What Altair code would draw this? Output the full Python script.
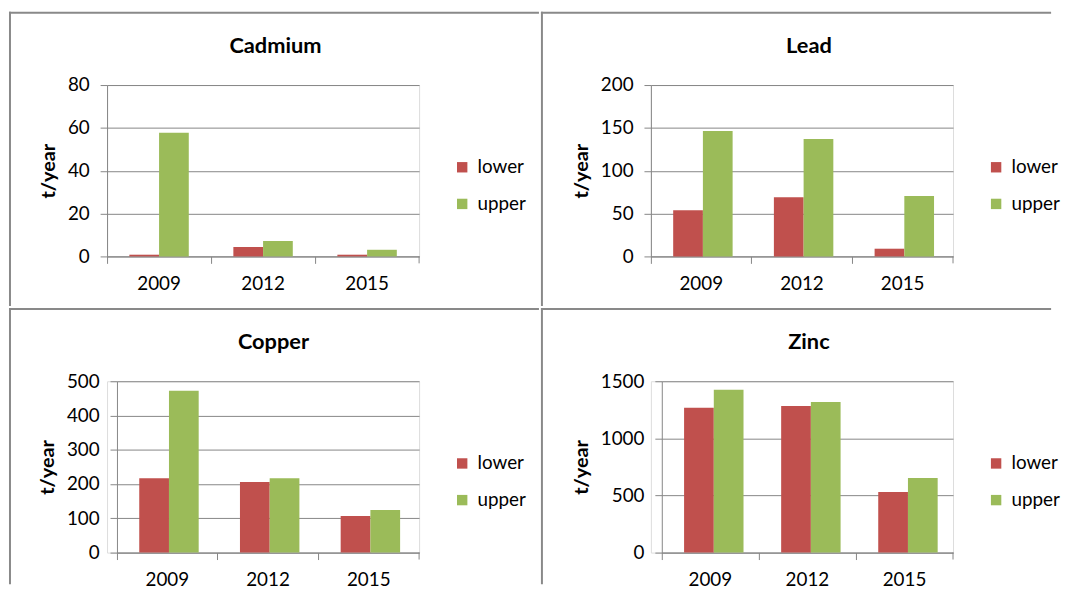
import altair as alt
import pandas as pd

years = ["2009", "2012", "2015"]
series = ["lower", "upper"]

cadmium_lower = [0.8, 4.4, 0.8]
cadmium_upper = [57.7, 7.2, 3.1]
lead_lower = [54, 69, 9]
lead_upper = [146.5, 137, 70.5]
copper_lower = [217, 206, 107]
copper_upper = [472, 217, 124]
zinc_lower = [1267, 1284, 531]
zinc_upper = [1425, 1318, 652]

cadmium_ticks = [0, 20, 40, 60, 80]
lead_ticks = [0, 50, 100, 150, 200]
copper_ticks = [0, 100, 200, 300, 400, 500]
zinc_ticks = [0, 500, 1000, 1500]

RED = "#C0504D"
GREEN = "#9BBB59"
GRID = "#868686"
FRAME = "#898989"
FONT = "Lato"
H = 173


def panel(name, lower, upper, ticks, W, inset, L, T, R, B, title_x):
    df = pd.DataFrame({
        "year": years * 2,
        "series": [series[0]] * 3 + [series[1]] * 3,
        "value": lower + upper,
    })
    one = pd.DataFrame({"k": [0]})
    bars = alt.Chart(df).mark_bar().encode(
        x=alt.X("year:N", sort=years,
                scale=alt.Scale(paddingInner=0, paddingOuter=0, range=[inset, W]),
                axis=alt.Axis(title=None, labelAngle=0, bandPosition=0, tickSize=7,
                              tickColor=GRID, domainColor=GRID, labelFont=FONT,
                              labelFontSize=19, labelColor="#000000", labelPadding=11,
                              grid=False)),
        xOffset=alt.XOffset("series:N", sort=series,
                            scale=alt.Scale(paddingInner=0, paddingOuter=0.75)),
        y=alt.Y("value:Q", scale=alt.Scale(domain=[0, ticks[-1]], nice=False),
                axis=alt.Axis(values=ticks, format="d", title="t/year", offset=-inset,
                              tickSize=7, tickColor=GRID,
                              domainColor=GRID, gridColor=GRID, labelFont=FONT,
                              labelFontSize=19, labelColor="#000000", labelPadding=11,
                              titleFont=FONT, titleFontSize=20, titleFontWeight="bold",
                              titleColor="#000000", titlePadding=9)),
        color=alt.Color("series:N",
                        scale=alt.Scale(domain=series, range=[RED, GREEN]),
                        legend=alt.Legend(title=None, orient="none", legendX=W + 34,
                                          legendY=73.5, direction="vertical",
                                          symbolType="square", symbolSize=110,
                                          symbolStrokeWidth=0, labelFont=FONT,
                                          labelFontSize=19, labelColor="#000000",
                                          labelOffset=6, rowPadding=17, padding=0)),
    )
    top_rule = alt.Chart(one).mark_rule(color=FRAME, strokeWidth=2, strokeCap="square").encode(
        x=alt.value(-L), x2=alt.value(W + R), y=alt.value(-T))
    left_rule = alt.Chart(one).mark_rule(color=FRAME, strokeWidth=2, strokeCap="square").encode(
        x=alt.value(-L), y=alt.value(-T), y2=alt.value(H + B))
    end_tick = alt.Chart(one).mark_rule(color=GRID, strokeWidth=1).encode(
        x=alt.value(W), y=alt.value(H), y2=alt.value(H + 7))
    title = alt.Chart(one).mark_text(
        font=FONT, fontSize=22, fontWeight="bold", color="#000000",
        align="center", baseline="alphabetic",
    ).encode(x=alt.value(title_x), y=alt.value(-32.5), text=alt.value(name))
    return alt.layer(top_rule, left_rule, end_tick, title, bars).properties(
        width=W, height=H)


cad = panel("Cadmium", cadmium_lower, cadmium_upper, cadmium_ticks, 315, 0, 98, 73, 120, 49, 170)
lead = panel("Lead", lead_lower, lead_upper, lead_ticks, 305, 0, 110, 73, 98, 49, 159.5)
cop = panel("Copper", copper_lower, copper_upper, copper_ticks, 315, 10, 98, 73, 120, 31, 168)
zinc = panel("Zinc", zinc_lower, zinc_upper, zinc_ticks, 305, 11, 110, 73, 98, 31, 159.5)

chart = alt.concat(cad, lead, cop, zinc, columns=2, spacing=0, align="each").resolve_scale(
    color="independent"
).properties(
    padding={"left": 0, "top": 0, "right": 0, "bottom": 0}
).configure_view(stroke=None).configure(background="white")

chart.save("out.html", embed_options={"renderer": "svg", "actions": False})
